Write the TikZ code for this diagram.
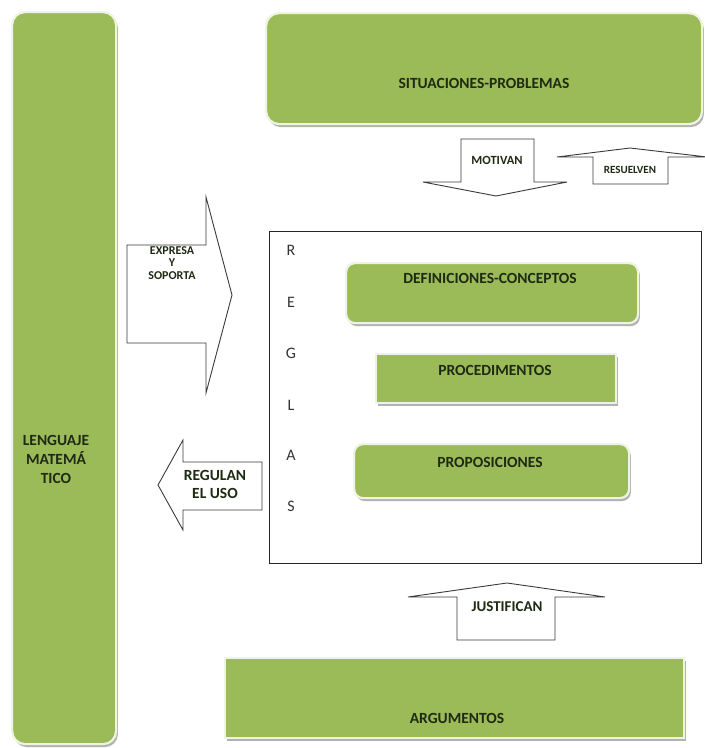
\documentclass[tikz,border=0pt]{standalone}
\usepackage{fontspec}
\setmainfont{Carlito}
\usetikzlibrary{shadows}
\definecolor{olive}{HTML}{9BBB59}
\definecolor{rim}{HTML}{EEF3E2}
\definecolor{ink}{HTML}{1E2A12}
\definecolor{arrowline}{HTML}{3A3A3A}
\tikzset{
  gbox/.style={fill=olive, draw=rim, line width=2.2pt, inner sep=0pt,
    anchor=north west,
    drop shadow={shadow xshift=1.8pt, shadow yshift=-3pt, fill=black!40, opacity=.75}},
  glabel/.style={text=ink, font=\bfseries\fontsize{15.5}{18}\selectfont, inner sep=0pt},
  alabel/.style={text=ink, font=\bfseries\fontsize{12.5}{14}\selectfont, inner sep=0pt, align=center},
  bigarrow/.style={draw=arrowline, fill=white, line width=0.9pt, line join=miter},
  rule/.style={text=black!80, font=\fontsize{16}{18}\selectfont, inner sep=0pt},
}
\begin{document}
\begin{tikzpicture}[x=1pt, y=-1pt]
\useasboundingbox (0,0) rectangle (705,748);
\fill[white] (0,0) rectangle (705,748);

% green blocks
\node[gbox, rounded corners=13pt, minimum width=104pt, minimum height=732pt] (leng) at (11,11) {};
\node[gbox, rounded corners=13pt, minimum width=436pt, minimum height=111pt] (sit) at (265,12) {};
\node[gbox, rounded corners=9pt, minimum width=292pt, minimum height=60pt] (def) at (345,262) {};
\node[gbox, minimum width=240pt, minimum height=49pt] (proc) at (375,353) {};
\node[gbox, rounded corners=9pt, minimum width=275pt, minimum height=54pt] (prop) at (353,443) {};
\node[gbox, minimum width=459pt, minimum height=80pt] (arg) at (224,657) {};

% rules frame
\draw[black!85, line width=1pt] (269,231) rectangle (701,563);

% block arrows
\draw[bigarrow] (461,139) -- (534,139) -- (534,182) -- (567,182) -- (496,196)
  -- (423,182) -- (461,182) -- cycle;
\draw[bigarrow] (593,184) -- (593,157) -- (557,157) -- (630,148) -- (707,157)
  -- (668,157) -- (668,184) -- cycle;
\draw[bigarrow] (127,245) -- (206,245) -- (206,197) -- (232,295) -- (206,393)
  -- (206,343) -- (127,343) -- cycle;
\draw[bigarrow] (262,462) -- (183,462) -- (183,440) -- (158,485) -- (183,530)
  -- (183,510) -- (262,510) -- cycle;
\draw[bigarrow] (457,640) -- (457,597) -- (408,597) -- (507,583) -- (605,597)
  -- (555,597) -- (555,640) -- cycle;

% block labels
\node[glabel] (tsit) at (484,83) {SITUACIONES-PROBLEMAS};
\node[glabel] (tdef) at (490,278) {DEFINICIONES-CONCEPTOS};
\node[glabel] (tproc) at (495,370) {PROCEDIMENTOS};
\node[glabel] (tprop) at (490,462) {PROPOSICIONES};
\node[glabel] (targ) at (457,718) {ARGUMENTOS};
\node[glabel, align=center, font=\bfseries\fontsize{15.5}{19}\selectfont] (tleng) at (56,459) {LENGUAJE\\MATEMÁ\\TICO};

% arrow labels
\node[alabel] (tmot) at (497,160) {MOTIVAN};
\node[alabel, font=\bfseries\fontsize{11}{13}\selectfont] (tres) at (630,170) {RESUELVEN};
\node[alabel, font=\bfseries\fontsize{12}{12.5}\selectfont] (texp) at (172,263) {EXPRESA\\Y\\SOPORTA};
\node[alabel, font=\bfseries\fontsize{15.5}{18}\selectfont] (treg) at (215,484) {REGULAN\\EL USO};
\node[alabel, font=\bfseries\fontsize{15}{17}\selectfont] (tjus) at (507,607) {JUSTIFICAN};

% vertical word
\node[rule] (r1) at (291,250) {R};
\node[rule] (r2) at (291,302) {E};
\node[rule] (r3) at (291,353) {G};
\node[rule] (r4) at (291,405) {L};
\node[rule] (r5) at (291,455) {A};
\node[rule] (r6) at (291,506) {S};
\end{tikzpicture}
\end{document}
